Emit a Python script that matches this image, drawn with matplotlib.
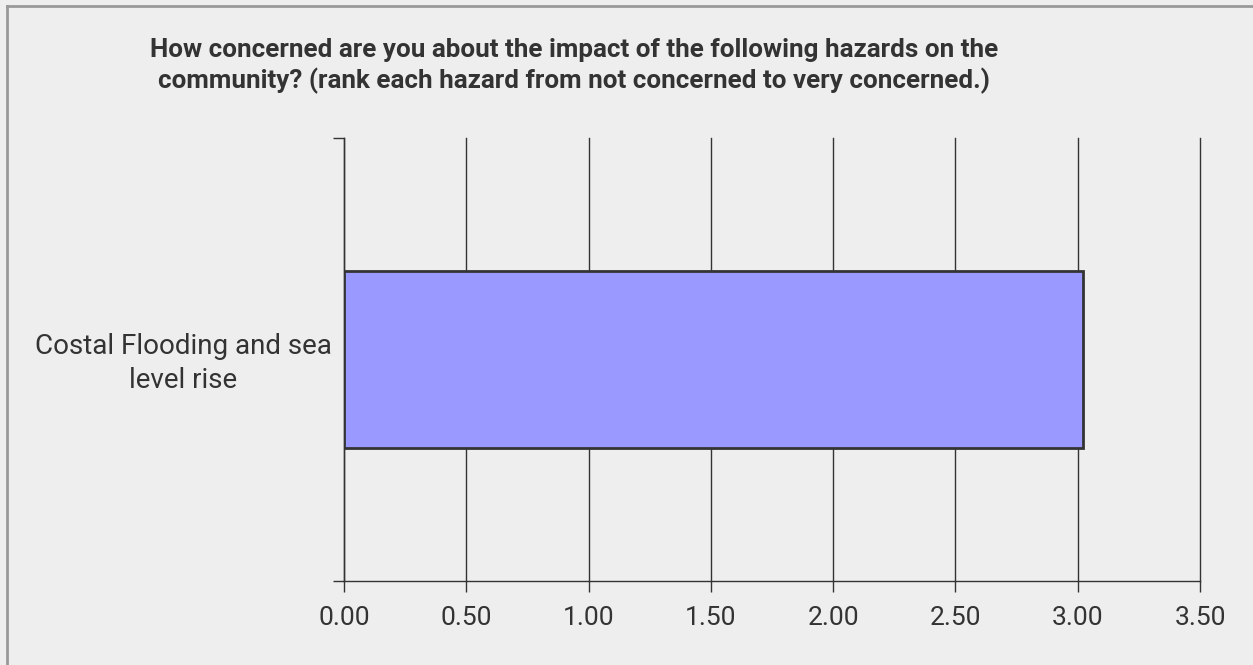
import matplotlib
matplotlib.use("Agg")
import matplotlib.pyplot as plt
from matplotlib.lines import Line2D

# data
categories = ["Costal Flooding and sea\nlevel rise"]
values = [3.02]
xticks = [0.0, 0.5, 1.0, 1.5, 2.0, 2.5, 3.0, 3.5]
title = ("How concerned are you about the impact of the following hazards on the\n"
         "community? (rank each hazard from not concerned to very concerned.)")

bg = "#eeeeee"
ink = "#333333"

plt.rcParams['font.family'] = ['Roboto', 'DejaVu Sans']

fig = plt.figure(figsize=(12.53, 6.65), dpi=100, facecolor=bg)
W, H = 1253, 665
ax = fig.add_axes([344 / W, 1 - 581 / H, (1200 - 344) / W, (581 - 138) / H])
ax.set_facecolor(bg)

ax.barh(range(len(categories)), values, height=0.4, color="#9999ff",
        edgecolor=ink, linewidth=2, zorder=3)

ax.set_xlim(0, 3.5)
ax.set_ylim(-0.5, len(categories) - 0.5)
ax.set_xticks(xticks)
ax.set_xticklabels(["%.2f" % t for t in xticks], fontsize=19, color=ink)
ax.xaxis.grid(True, color=ink, linewidth=1, zorder=0)
for gl in ax.get_xgridlines():
    gl.set_clip_on(False)

# category boundaries get the ticks; the label sits left of the axes, centred
ax.set_yticks([-0.5, len(categories) - 0.5])
ax.set_yticklabels([])
ax.tick_params(axis="y", length=8, color=ink, width=1)
ax.tick_params(axis="x", length=8, color=ink, width=1, pad=10)
for i, cat in enumerate(categories):
    ax.annotate(cat, xy=(0, i), xycoords=("axes fraction", "data"),
                xytext=(183, -4), textcoords=("figure pixels", "offset pixels"),
                ha="center", va="center", fontsize=20, color=ink, linespacing=1.3)

for s in ["top", "right"]:
    ax.spines[s].set_visible(False)
for s in ["left", "bottom"]:
    ax.spines[s].set_color(ink)
    ax.spines[s].set_linewidth(1)

fig.text(574 / W, 1 - 66 / H, title, ha="center", va="center", fontsize=18.7,
         fontweight="bold", color=ink, linespacing=1.32)

# outer frame (only top and left edges show)
fig.add_artist(Line2D([7 / W, 7 / W], [0, 1 - 6 / H], transform=fig.transFigure,
                      color="#999999", linewidth=2))
fig.add_artist(Line2D([7 / W, 1], [1 - 6 / H, 1 - 6 / H], transform=fig.transFigure,
                      color="#999999", linewidth=2))

fig.savefig("out.png", dpi=100, facecolor=bg)
